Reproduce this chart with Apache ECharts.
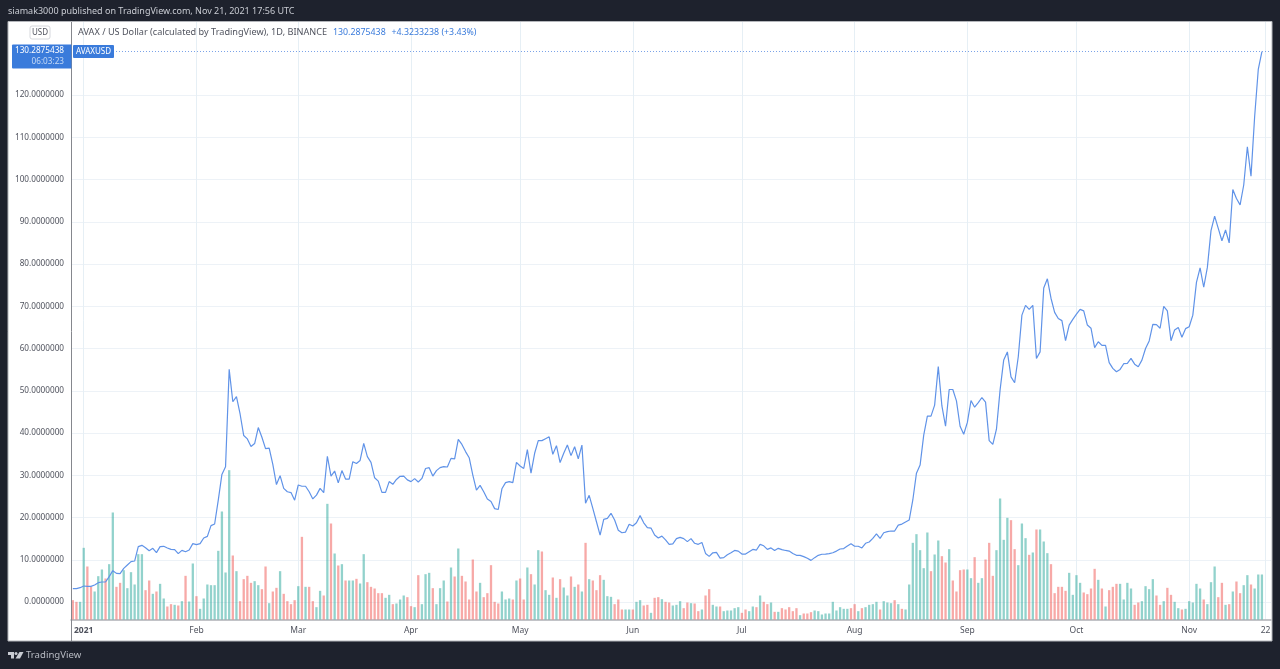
<!DOCTYPE html>
<html>
<head>
<meta charset="utf-8">
<title>AVAXUSD</title>
<script src="https://cdn.jsdelivr.net/npm/echarts@6/dist/echarts.min.js"></script>
<style>
    html, body { margin: 0; padding: 0; background: #1e222d; }
    #chart { width: 1280px; height: 669px; }
</style>
</head>
<body>
<div id="chart"></div>
<script>
// first candle of the chart, one value per day from here on
const firstDay = '2020-12-29';
// two empty days on the right of the last candle
const emptyDays = 2;

// daily close
const closes = [
    3.16, 3.16, 3.39, 3.79, 3.71, 3.71, 4.02, 4.58, 4.73, 4.73, 6.0, 7.42, 6.78, 6.71, 7.97, 8.76,
    9.55, 9.7, 13.1, 13.41, 12.86, 12.15, 12.7, 11.68, 13.1, 13.18, 12.78, 12.47, 12.39, 11.44, 12.23, 11.91,
    12.31, 13.81, 13.57, 13.81, 15.15, 15.54, 18.07, 18.46, 24.1, 30.2, 32.0, 55.06, 47.4, 48.6, 44.5, 39.4,
    38.6, 36.8, 37.5, 41.3, 39.0, 36.3, 36.4, 32.6, 27.8, 29.9, 26.9, 26.1, 25.9, 24.1, 27.7, 27.4,
    27.4, 26.1, 24.4, 25.3, 26.9, 25.9, 34.5, 29.8, 31.0, 28.2, 31.1, 29.1, 29.1, 33.2, 32.8, 33.5,
    37.55, 34.4, 33.05, 29.4, 28.6, 25.95, 25.95, 28.5, 27.85, 29.0, 29.75, 29.8, 28.9, 28.5, 29.2, 28.4,
    29.25, 31.6, 31.8, 29.8, 31.1, 31.8, 32.05, 31.95, 34.0, 33.9, 38.5, 37.3, 35.6, 34.15, 30.05, 26.5,
    27.6, 26.1, 24.4, 23.8, 22.1, 21.9, 26.8, 28.25, 28.5, 28.25, 33.05, 32.2, 31.6, 36.05, 30.5, 35.2,
    38.2, 38.2, 38.65, 39.1, 34.95, 37.0, 33.0, 35.2, 37.15, 34.65, 36.75, 33.9, 37.15, 23.4, 25.25, 22.15,
    19.0, 15.85, 19.55, 19.8, 21.0, 19.4, 17.0, 16.4, 16.55, 18.4, 18.0, 18.75, 20.45, 18.75, 17.6, 17.5,
    15.85, 15.15, 15.6, 14.7, 13.65, 13.75, 15.0, 15.3, 15.0, 14.3, 15.0, 13.9, 13.65, 14.1, 11.5, 10.8,
    11.65, 11.75, 10.4, 10.5, 11.2, 11.65, 12.2, 12.05, 11.35, 11.35, 11.9, 12.45, 12.3, 13.65, 13.3, 12.45,
    12.8, 12.2, 12.7, 12.4, 12.2, 12.05, 11.5, 11.05, 11.05, 10.75, 10.35, 9.85, 10.5, 11.05, 11.3, 11.35,
    11.45, 11.65, 12.05, 12.55, 12.65, 13.25, 13.8, 13.2, 13.2, 12.8, 13.9, 14.2, 15.05, 16.1, 15.05, 16.4,
    16.65, 16.8, 16.8, 18.2, 18.45, 18.95, 19.4, 24.15, 30.5, 32.4, 39.5, 44.0, 44.0, 46.6, 55.7, 46.4,
    41.6, 50.3, 50.3, 47.6, 41.6, 39.7, 42.5, 47.7, 46.1, 47.2, 48.4, 47.3, 38.2, 37.3, 40.9, 50.2,
    57.3, 59.2, 53.3, 51.9, 58.05, 67.9, 70.2, 69.25, 70.2, 57.65, 59.2, 74.3, 76.5, 71.9, 68.55, 67.1,
    66.6, 61.85, 65.55, 66.9, 68.15, 69.25, 68.9, 65.55, 64.8, 60.2, 61.6, 60.75, 60.75, 56.65, 55.3, 54.5,
    55.05, 56.4, 56.5, 57.65, 56.3, 55.7, 57.25, 60.0, 61.8, 65.7, 65.65, 64.8, 70.0, 68.9, 61.85, 64.4,
    65.0, 62.65, 64.7, 65.15, 67.9, 75.65, 79.1, 74.5, 79.2, 87.9, 91.35, 88.45, 85.5, 88.05, 85.0, 97.65,
    95.5, 94.0, 98.7, 107.75, 100.8, 114.85, 126.05, 130.2875438
];

// daily volume in arbitrary units, the picture has no scale for it
const volumes = [
    58, 53, 53, 215, 159, 98, 84, 130, 150, 123, 166, 321, 98, 110, 148, 94,
    142, 105, 196, 196, 88, 117, 77, 84, 107, 63, 39, 46, 44, 42, 55, 131,
    54, 168, 70, 32, 63, 105, 103, 103, 206, 324, 141, 448, 192, 145, 55, 121,
    131, 110, 115, 103, 91, 159, 49, 84, 95, 145, 77, 55, 46, 58, 100, 248,
    98, 98, 55, 37, 86, 72, 347, 288, 198, 162, 166, 117, 117, 117, 122, 108,
    196, 112, 98, 93, 79, 79, 65, 74, 46, 48, 60, 72, 67, 40, 37, 133,
    46, 136, 140, 94, 46, 94, 117, 54, 156, 129, 213, 131, 114, 60, 180, 84,
    110, 67, 79, 163, 53, 48, 84, 60, 63, 60, 117, 123, 60, 156, 136, 105,
    208, 204, 88, 74, 126, 65, 121, 96, 72, 129, 98, 105, 84, 230, 121, 117,
    88, 133, 119, 70, 68, 46, 60, 30, 30, 30, 30, 53, 58, 42, 44, 20,
    65, 67, 61, 53, 51, 42, 44, 55, 34, 51, 49, 48, 25, 30, 72, 91,
    44, 39, 39, 25, 27, 27, 34, 37, 20, 30, 25, 39, 37, 72, 53, 46,
    51, 23, 23, 34, 30, 37, 25, 34, 13, 18, 18, 22, 27, 25, 15, 18,
    18, 53, 27, 37, 32, 32, 34, 46, 25, 34, 37, 44, 46, 53, 30, 55,
    51, 49, 58, 46, 32, 30, 105, 230, 256, 208, 154, 261, 145, 195, 237, 190,
    171, 211, 117, 84, 148, 150, 150, 124, 187, 110, 124, 180, 230, 131, 208, 363,
    239, 305, 298, 211, 163, 288, 244, 194, 201, 270, 270, 234, 199, 166, 79, 98,
    98, 86, 140, 74, 133, 110, 81, 76, 93, 152, 119, 93, 39, 88, 98, 107,
    107, 60, 110, 93, 44, 51, 55, 100, 91, 121, 72, 44, 55, 95, 74, 53,
    34, 30, 32, 55, 51, 107, 93, 60, 46, 112, 159, 67, 110, 44, 46, 84,
    114, 79, 103, 133, 105, 93, 135, 135
];

// 1 = green bar, 0 = red bar
const volumeUp = [
    0, 0, 1, 1, 0, 0, 1, 1, 1, 0, 1, 1, 0, 0, 1, 1,
    1, 1, 1, 1, 0, 0, 1, 0, 1, 1, 0, 0, 1, 0, 1, 0,
    1, 1, 0, 1, 1, 1, 1, 1, 1, 1, 1, 1, 0, 1, 0, 0,
    0, 0, 1, 1, 0, 0, 1, 0, 0, 1, 0, 0, 0, 0, 1, 0,
    1, 0, 0, 1, 1, 0, 1, 0, 1, 0, 1, 0, 1, 1, 0, 1,
    1, 0, 0, 0, 0, 0, 1, 1, 0, 1, 1, 1, 0, 0, 1, 0,
    1, 1, 1, 0, 1, 1, 1, 0, 1, 0, 1, 0, 0, 0, 0, 0,
    1, 0, 0, 0, 0, 0, 1, 1, 1, 0, 1, 0, 0, 1, 0, 1,
    1, 0, 1, 1, 0, 1, 0, 1, 1, 0, 1, 0, 1, 0, 1, 0,
    0, 0, 1, 1, 1, 0, 0, 0, 1, 1, 0, 1, 1, 0, 0, 1,
    0, 0, 1, 0, 0, 1, 1, 1, 0, 0, 1, 0, 0, 1, 0, 0,
    1, 1, 0, 1, 1, 1, 1, 1, 0, 0, 1, 1, 0, 1, 0, 0,
    1, 0, 1, 0, 0, 0, 0, 0, 1, 0, 0, 0, 1, 1, 1, 1,
    1, 1, 1, 1, 1, 1, 0, 0, 1, 0, 1, 1, 1, 1, 0, 1,
    1, 1, 0, 1, 0, 1, 1, 1, 1, 1, 1, 1, 0, 1, 1, 0,
    0, 1, 0, 0, 0, 0, 1, 1, 0, 1, 1, 0, 0, 0, 1, 1,
    1, 1, 0, 0, 1, 1, 1, 0, 1, 0, 1, 1, 1, 0, 0, 0,
    0, 0, 1, 1, 1, 1, 0, 0, 0, 0, 1, 0, 1, 0, 0, 0,
    1, 1, 1, 1, 0, 0, 1, 1, 1, 1, 0, 0, 1, 0, 0, 1,
    1, 0, 1, 1, 1, 1, 1, 0, 1, 1, 1, 0, 0, 1, 0, 1,
    0, 0, 1, 1, 0, 1, 1, 1
];

// tick labels
const priceTicks = [0, 10, 20, 30, 40, 50, 60, 70, 80, 90, 100, 110, 120];
const monthTicks = ['2021-01-01', '2021-02-01', '2021-03-01', '2021-04-01', '2021-05-01', '2021-06-01',
    '2021-07-01', '2021-08-01', '2021-09-01', '2021-10-01', '2021-11-01', '2021-11-22'];
const monthLabels = ['2021', 'Feb', 'Mar', 'Apr', 'May', 'Jun', 'Jul', 'Aug', 'Sep', 'Oct', 'Nov', '22'];

const lastClose = closes[closes.length - 1];
const uiFont = '"Noto Sans", sans-serif';
const textGray = '#50535e';
const tvBlue = '#3a7bdb';

// days of the axis
function buildDays() {
    const days = [];
    const start = Date.parse(firstDay + 'T00:00:00Z');
    for (let i = 0; i < closes.length + emptyDays; i++) {
        days.push(new Date(start + i * 86400000).toISOString().slice(0, 10));
    }
    return days;
}

function isMonthTick(index, day) {
    return monthTicks.indexOf(day) !== -1;
}

const chart = echarts.init(document.getElementById('chart'), null, { renderer: 'canvas' });

chart.setOption({
    animation: false,
    backgroundColor: '#1e222d',
    grid: { left: 71, right: 9, top: 22, bottom: 49.5 },
    xAxis: {
        type: 'category',
        data: buildDays(),
        boundaryGap: true,
        axisLine: { show: true, onZero: false, lineStyle: { color: '#aeb0b5', width: 1.5 } },
        axisTick: { show: false, alignWithLabel: true, interval: isMonthTick },
        axisLabel: {
            interval: isMonthTick,
            margin: 7,
            fontFamily: uiFont,
            fontSize: 8.5,
            color: textGray,
            hideOverlap: false,
            formatter: function(day) {
                const label = monthLabels[monthTicks.indexOf(day)];
                // the year label is bolder than the months
                return label === '2021' ? '{year|' + label + '}' : label;
            },
            rich: {
                year: { fontFamily: uiFont, fontSize: 8.5, fontWeight: 'bold', color: textGray }
            }
        },
        splitLine: {
            show: true,
            alignWithLabel: true,
            interval: isMonthTick,
            lineStyle: { color: '#e6eff5', width: 1 }
        }
    },
    yAxis: [{
        type: 'value',
        min: -4.14,
        max: 137.28,
        axisLine: { show: false },
        axisTick: { show: false, customValues: priceTicks },
        axisLabel: {
            customValues: priceTicks,
            margin: 7,
            fontFamily: uiFont,
            fontSize: 8.2,
            color: textGray,
            formatter: function(value) {
                return value.toFixed(7);
            }
        },
        splitLine: { show: true, lineStyle: { color: '#edf2f7', width: 1 } }
    }, {
        // volume has its own hidden scale
        type: 'value',
        min: 0,
        max: 1792.5,
        show: false,
        splitLine: { show: false }
    }],
    series: [{
        name: 'Volume',
        type: 'bar',
        yAxisIndex: 1,
        barWidth: 2.3,
        data: volumes.map(function(volume, i) {
            return {
                value: volume,
                itemStyle: { color: volumeUp[i] ? 'rgba(38, 166, 154, 0.5)' : 'rgba(239, 83, 80, 0.5)' }
            };
        }),
        z: 2
    }, {
        name: 'AVAXUSD',
        type: 'line',
        data: closes,
        showSymbol: false,
        smooth: false,
        lineStyle: { color: '#6093e8', width: 1.2 },
        markLine: {
            silent: true,
            symbol: 'none',
            label: { show: false },
            lineStyle: { color: '#7ba3e8', type: [1, 2], width: 1 },
            data: [{ yAxis: lastClose }]
        },
        z: 3
    }],
    graphic: [
        // white chart panel behind the grid
        { type: 'rect', z: -1, shape: { x: 8, y: 21.5, width: 1264, height: 619.5 }, style: { fill: '#ffffff', stroke: '#b4b6bb', lineWidth: 1 } },
        // price axis divider
        { type: 'line', z: 10, shape: { x1: 71.5, y1: 22, x2: 71.5, y2: 641 }, style: { stroke: '#85878d', lineWidth: 1 } },

        // header
        { type: 'text', z: 10, x: 8, y: 11, style: { text: 'siamak3000 published on TradingView.com, Nov 21, 2021 17:56 UTC', fill: '#c9ccd3', font: '9px ' + uiFont, verticalAlign: 'middle' } },

        // legend
        { type: 'text', z: 10, x: 78, y: 32, style: { text: 'AVAX / US Dollar (calculated by TradingView), 1D, BINANCE', fill: textGray, font: '9.15px ' + uiFont, verticalAlign: 'middle' } },
        { type: 'text', z: 10, x: 333, y: 32, style: { text: lastClose.toFixed(7), fill: tvBlue, font: '8.8px ' + uiFont, verticalAlign: 'middle' } },
        { type: 'text', z: 10, x: 391.5, y: 32, style: { text: '+4.3233238 (+3.43%)', fill: tvBlue, font: '8.8px ' + uiFont, verticalAlign: 'middle' } },

        // currency button
        { type: 'rect', z: 10, shape: { x: 30, y: 26, width: 20, height: 13, r: 2 }, style: { fill: '#ffffff', stroke: '#d6d8dd', lineWidth: 1 } },
        { type: 'text', z: 11, x: 40, y: 32.5, style: { text: 'USD', fill: textGray, font: '8px ' + uiFont, align: 'center', verticalAlign: 'middle' } },

        // last price tag
        { type: 'rect', z: 10, shape: { x: 12, y: 44.5, width: 59.5, height: 24, r: [1, 0, 0, 1] }, style: { fill: tvBlue } },
        { type: 'text', z: 11, x: 64, y: 51, style: { text: lastClose.toFixed(7), fill: '#ffffff', font: '8.2px ' + uiFont, align: 'right', verticalAlign: 'middle' } },
        { type: 'text', z: 11, x: 64, y: 62, style: { text: '06:03:23', fill: '#c5d9f5', font: '8.2px ' + uiFont, align: 'right', verticalAlign: 'middle' } },

        // symbol tag
        { type: 'rect', z: 10, shape: { x: 73, y: 45, width: 41, height: 13, r: 1 }, style: { fill: tvBlue } },
        { type: 'text', z: 11, x: 93.5, y: 51.5, style: { text: 'AVAXUSD', fill: '#ffffff', font: '8px ' + uiFont, align: 'center', verticalAlign: 'middle' } },

        // footer logo
        { type: 'polygon', z: 10, shape: { points: [[8, 652], [14, 652], [14, 658.5], [11, 658.5], [11, 655], [8, 655]] }, style: { fill: '#c9ccd3' } },
        { type: 'circle', z: 10, shape: { cx: 16, cy: 653.5, r: 1.5 }, style: { fill: '#c9ccd3' } },
        { type: 'polygon', z: 10, shape: { points: [[19.5, 652], [23.5, 652], [20, 658.5], [15.5, 658.5]] }, style: { fill: '#c9ccd3' } },
        { type: 'text', z: 10, x: 26, y: 655, style: { text: 'TradingView', fill: '#b8bbc3', font: '9.6px ' + uiFont, verticalAlign: 'middle' } }
    ]
});

window.addEventListener('resize', function() {
    chart.resize();
});
</script>
</body>
</html>
